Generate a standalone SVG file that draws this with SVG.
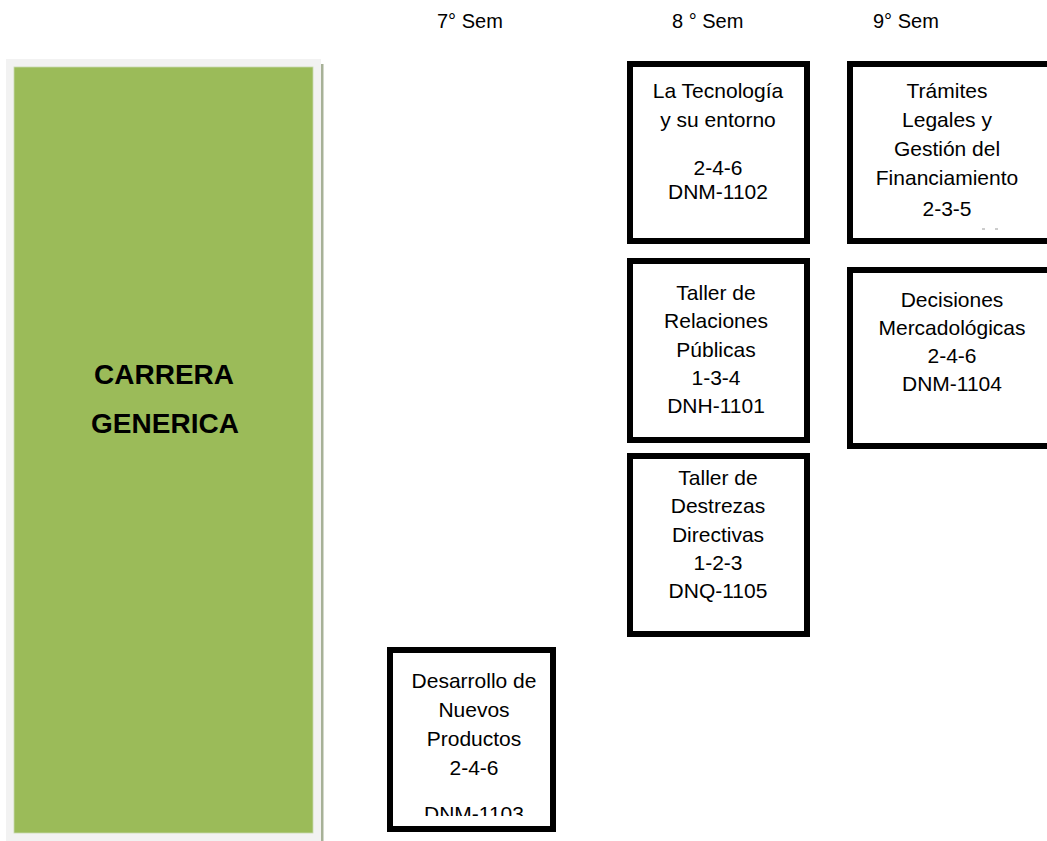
<svg xmlns="http://www.w3.org/2000/svg" width="1047" height="841" viewBox="0 0 1047 841">
<style>
.box{fill:#ffffff;stroke:#000000;stroke-width:6}
.t{font-family:"Liberation Sans",Arial,sans-serif;font-size:21px;fill:#000;text-anchor:middle}
.h{font-family:"Liberation Sans",Arial,sans-serif;font-size:20px;fill:#000}
.big{font-family:"Liberation Sans",Arial,sans-serif;font-size:28px;font-weight:bold;fill:#000;text-anchor:middle}
</style>
<defs>
<clipPath id="clip6"><rect x="390" y="650" width="163" height="166"/></clipPath>
</defs>
<rect x="0" y="0" width="1047" height="841" fill="#ffffff"/>
<g id="headers">
<text class="h" x="437" y="28">7° Sem</text>
<text class="h" x="672" y="28">8 ° Sem</text>
<text class="h" x="873" y="28">9° Sem</text>
</g>
<g id="carrera">
<rect x="321" y="64" width="2.5" height="777" fill="#a7b197"/>
<rect x="6" y="59" width="315" height="782" fill="#f2f2f2"/>
<rect x="14" y="67" width="299" height="766" fill="#9bbb59" stroke="#c9dab0" stroke-width="0.8"/>
<text class="big" x="164" y="384">CARRERA</text>
<text class="big" x="165" y="433">GENERICA</text>
</g>
<g id="connectors"></g>
<g id="n-tecnologia">
<rect class="box" x="630" y="64" width="177" height="177"/>
<text class="t" x="718" y="98">La Tecnología</text>
<text class="t" x="718" y="127">y su entorno</text>
<text class="t" x="718" y="175">2-4-6</text>
<text class="t" x="718" y="199">DNM-1102</text>
</g>
<g id="n-tramites">
<rect class="box" x="850" y="64" width="203" height="177"/>
<text class="t" x="947" y="98">Trámites</text>
<text class="t" x="947" y="127">Legales y</text>
<text class="t" x="947" y="156">Gestión del</text>
<text class="t" x="947" y="185">Financiamiento</text>
<text class="t" x="947" y="216">2-3-5</text>
<line x1="982" y1="229" x2="985" y2="229" stroke="#9a9a9a" stroke-width="1"/>
<line x1="995" y1="229" x2="998" y2="229" stroke="#9a9a9a" stroke-width="1"/>
</g>
<g id="n-relaciones">
<rect class="box" x="630" y="261" width="177" height="179"/>
<text class="t" x="716" y="300">Taller de</text>
<text class="t" x="716" y="328">Relaciones</text>
<text class="t" x="716" y="357">Públicas</text>
<text class="t" x="716" y="385">1-3-4</text>
<text class="t" x="716" y="413">DNH-1101</text>
</g>
<g id="n-decisiones">
<rect class="box" x="850" y="270" width="203" height="176"/>
<text class="t" x="952" y="307">Decisiones</text>
<text class="t" x="952" y="335">Mercadológicas</text>
<text class="t" x="952" y="363">2-4-6</text>
<text class="t" x="952" y="391">DNM-1104</text>
</g>
<g id="n-destrezas">
<rect class="box" x="630" y="456" width="177" height="178"/>
<text class="t" x="718" y="485">Taller de</text>
<text class="t" x="718" y="513">Destrezas</text>
<text class="t" x="718" y="542">Directivas</text>
<text class="t" x="718" y="570">1-2-3</text>
<text class="t" x="718" y="598">DNQ-1105</text>
</g>
<g id="n-desarrollo">
<rect class="box" x="390" y="650" width="163" height="179"/>
<text class="t" x="474" y="688">Desarrollo de</text>
<text class="t" x="474" y="717">Nuevos</text>
<text class="t" x="474" y="746">Productos</text>
<text class="t" x="474" y="775">2-4-6</text>
<text class="t" x="474" y="821" clip-path="url(#clip6)">DNM-1103</text>
</g>
</svg>
